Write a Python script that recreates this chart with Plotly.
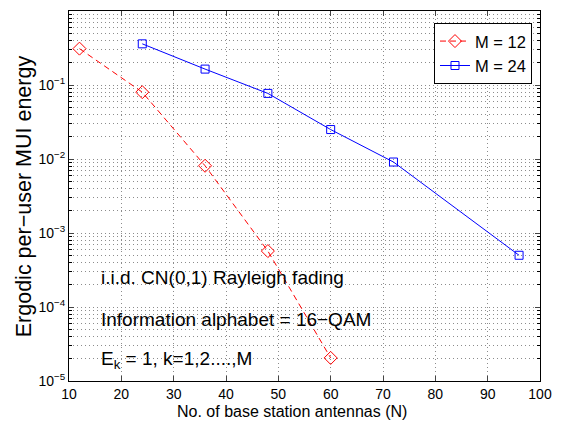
import plotly.graph_objects as go

# Data
n_m12 = [12, 24, 36, 48, 60]
e_m12 = [0.31, 0.080, 0.0081, 5.7e-4, 2.05e-5]
n_m24 = [24, 36, 48, 60, 72, 96]
e_m24 = [0.36, 0.164, 0.077, 0.025, 0.0091, 5.0e-4]

ytick_vals = [1e-5, 1e-4, 1e-3, 1e-2, 1e-1, 1e0]
ytick_text = ["10<sup>−5</sup>", "10<sup>−4</sup>", "10<sup>−3</sup>",
              "10<sup>−2</sup>", "10<sup>−1</sup>", "10<sup>0</sup>"]
xtick_vals = [10, 20, 30, 40, 50, 60, 70, 80, 90, 100]

FONT = "Liberation Sans, Arial, sans-serif"

fig = go.Figure()
fig.add_trace(go.Scatter(
    x=n_m12, y=e_m12, mode="lines+markers", name="M = 12",
    line=dict(color="#ff0000", width=1, dash="6px,4px"),
    marker=dict(symbol="diamond-open", size=10, color="#ff0000", line=dict(width=1)),
))
fig.add_trace(go.Scatter(
    x=n_m24, y=e_m24, mode="lines+markers", name="M = 24",
    line=dict(color="#0000ff", width=1),
    marker=dict(symbol="square-open", size=8, color="#0000ff", line=dict(width=1)),
))

grid_color = "#8c8c8c"
gdash = "1px,3px"
fig.update_xaxes(
    range=[10, 100], tickvals=xtick_vals, ticks="inside", ticklen=5,
    showline=True, linecolor="black", linewidth=1, mirror="ticks",
    showgrid=True, gridcolor=grid_color, griddash=gdash, gridwidth=1,
    zeroline=False, automargin=False,
    tickfont=dict(size=14, color="black", family=FONT),
)
fig.update_yaxes(
    type="log", range=[-5, 0], tickvals=ytick_vals, ticktext=ytick_text,
    ticks="inside", ticklen=5, automargin=False,
    showline=True, linecolor="black", linewidth=1, mirror="ticks",
    showgrid=True, gridcolor=grid_color, griddash=gdash, gridwidth=1,
    minor=dict(dtick="D1", ticks="inside", ticklen=3, showgrid=True,
               gridcolor=grid_color, griddash=gdash, gridwidth=1, tickcolor="black"),
    tickfont=dict(size=14, color="black", family=FONT),
)

# axis titles as annotations (placed like the reference)
fig.add_annotation(x=0.4735, y=-0.082, xref="paper", yref="paper",
                   text="No. of base station antennas (N)", showarrow=False,
                   xanchor="center", yanchor="middle",
                   font=dict(size=16, color="black", family=FONT))
fig.add_annotation(x=-0.095, y=0.50, xref="paper", yref="paper",
                   text="Ergodic per−user MUI energy", showarrow=False, textangle=-90,
                   xanchor="center", yanchor="middle",
                   font=dict(size=21.5, color="black", family=FONT))

annots = [
    ("i.i.d. CN(0,1) Rayleigh fading", 0.281),
    ("Information alphabet = 16−QAM", 0.165),
    ("E<sub>k</sub> = 1, k=1,2....,M", 0.058),
]
for txt, yy in annots:
    fig.add_annotation(x=0.064, y=yy, xref="paper", yref="paper", text=txt,
                       showarrow=False, xanchor="left", yanchor="middle",
                       font=dict(size=19, color="black", family=FONT))

fig.update_layout(
    width=556, height=413,
    margin=dict(l=61, r=24, t=3, b=40, autoexpand=False),
    plot_bgcolor="white", paper_bgcolor="white",
    font=dict(family=FONT, color="black"),
    legend=dict(x=0.983, y=0.968, xanchor="right", yanchor="top",
                bordercolor="black", borderwidth=1, bgcolor="white",
                font=dict(size=16.5, color="black", family=FONT),
                tracegroupgap=0, itemwidth=30),
    showlegend=True,
)

fig.write_html("out.html")
